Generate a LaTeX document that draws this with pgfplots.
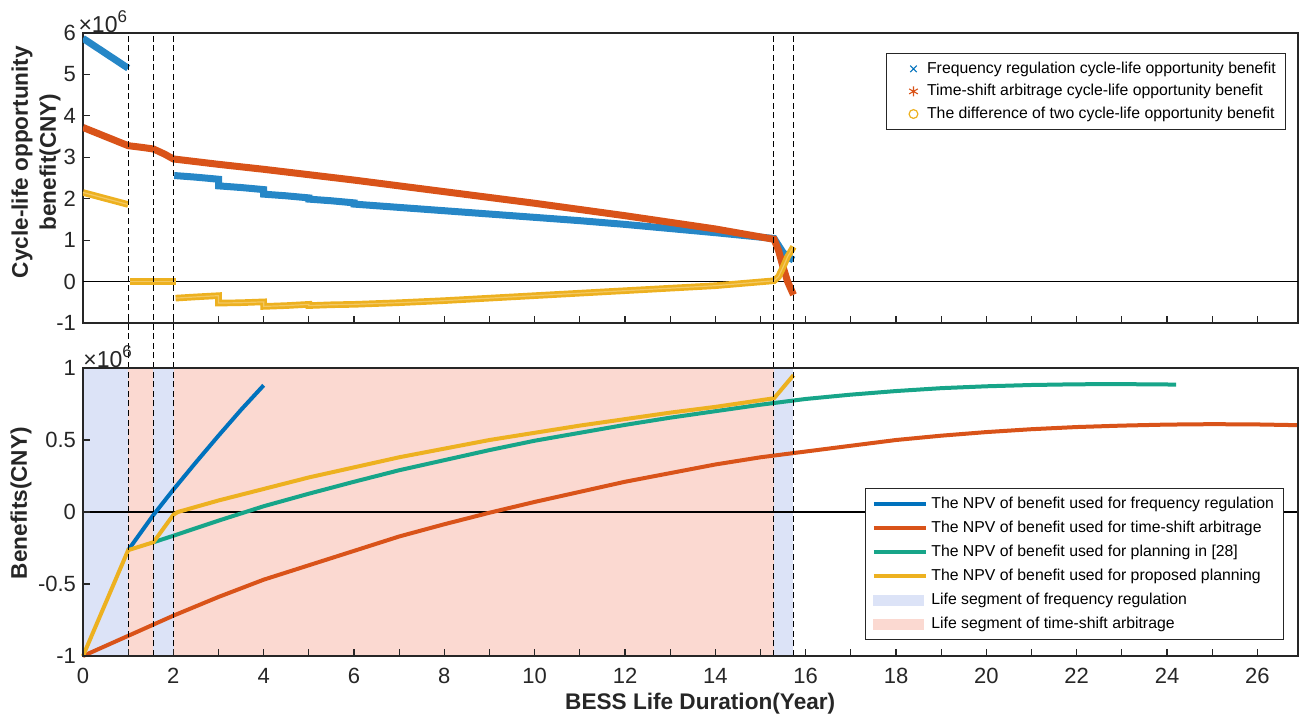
\documentclass[border=0pt]{standalone}
\usepackage{pgfplots}
\pgfplotsset{compat=1.18}
\usepackage{fontspec}
\setmainfont{Liberation Sans}
\definecolor{mblue}{HTML}{0072BD}
\definecolor{morange}{HTML}{D95319}
\definecolor{myellow}{HTML}{EDB120}
\definecolor{mgreen}{HTML}{17A589}
\definecolor{shb}{HTML}{DCE3F7}
\definecolor{shr}{HTML}{FBD9D1}
\definecolor{axgray}{HTML}{262626}
\begin{document}
\begin{tikzpicture}
\useasboundingbox (-41.5pt,-28.5pt) rectangle (609.5pt,328pt);
\pgfplotsset{
  common/.style={
    scale only axis, width=607.5pt,
    xmin=0, xmax=26.9,
    xtick={0,2,...,26}, minor xtick={1,3,...,25},
    tick align=inside, xtick pos=bottom, ytick pos=left,
    major tick length=3.5pt, minor tick length=3.5pt,
    every tick/.append style={axgray, line width=0.6pt},
    every minor tick/.append style={axgray, line width=0.6pt},
    axis line style={axgray, line width=0.7pt},
    tick label style={font=\fontsize{11}{13}\selectfont, text=axgray},
    /pgf/number format/assume math mode=true,
    legend cell align=left,
  }
}
% ---------------- top panel ----------------
\begin{axis}[common, at={(0,166.5pt)}, anchor=south west, height=145pt,
  ymin=-1, ymax=6, ytick={-1,0,...,6}, yticklabels={-1,0,1,2,3,4,5,6},
  xticklabels={}, clip mode=individual,
  ylabel={Cycle-life opportunity\\benefit(CNY)},
  ylabel style={align=center, font=\fontsize{11.3}{14}\selectfont\bfseries, text=axgray,
    at={(axis description cs:-0.0387,0.555)}, anchor=center},
  legend style={at={(rel axis cs:0.990,0.931)}, anchor=north east,
    font=\fontsize{7.9}{9}\selectfont, draw=axgray, line width=0.5pt, row sep=0pt,
    nodes={text height=6pt, text depth=1.7pt, inner sep=1.8pt}},
]
\addplot[black, line width=0.6pt, forget plot] coordinates {(0,0) (26.9,0)};
% frequency regulation
\addplot[mblue!85!white, line width=3.5pt, forget plot] coordinates {(0,5.87) (0.5,5.51) (1.0,5.15)};
\addplot[mblue!85!white, line width=3.5pt, forget plot] coordinates {
(2.02,2.56) (2.5,2.52) (3.0,2.47) (3.0,2.31) (3.5,2.27) (4.0,2.22) (4.0,2.11) (4.5,2.07) (5.0,2.02)
(5.0,1.99) (5.5,1.95) (6.0,1.90) (6.0,1.87) (7,1.79) (8,1.71) (9,1.63) (10,1.55) (11,1.47) (12,1.38)
(13,1.28) (14,1.18) (15.3,1.04) (15.4,0.87) (15.5,0.70) (15.6,0.60) (15.73,0.52)};
% time-shift arbitrage
\addplot[morange, line width=3.5pt, forget plot] coordinates {
(0,3.72) (0.5,3.50) (1.0,3.28) (1.3,3.24) (1.56,3.20) (1.8,3.08) (2.0,2.96) (3,2.83) (4,2.71) (5,2.58)
(6,2.45) (7,2.31) (8,2.17) (9,2.03) (10,1.89) (11,1.74) (12,1.59) (13,1.43) (14,1.27) (15.3,1.02)
(15.4,0.75) (15.5,0.35) (15.6,0.0) (15.73,-0.32)};
% difference
\addplot[myellow, line width=3.3pt, forget plot] coordinates {(0,2.15) (1,1.86)};
\addplot[myellow, line width=3.3pt, forget plot] coordinates {(1.05,0) (2.05,0)};
\addplot[myellow, line width=3.3pt, forget plot] coordinates {
(2.05,-0.40) (2.5,-0.37) (3.0,-0.34) (3.0,-0.52) (3.5,-0.51) (4.0,-0.49) (4.0,-0.60) (4.5,-0.58)
(5.0,-0.55) (5.0,-0.58) (5.5,-0.56) (6.0,-0.55) (7,-0.51) (8,-0.46) (9,-0.40) (10,-0.34) (11,-0.28)
(12,-0.22) (13,-0.16) (14,-0.10) (15.3,0.02) (15.4,0.12) (15.5,0.35) (15.6,0.60) (15.73,0.84)};
\addplot[myellow!70!white, line width=0.6pt, forget plot] coordinates {(0,2.15) (1,1.86)};
\addplot[myellow!70!white, line width=0.6pt, forget plot] coordinates {(1.05,0) (2.05,0)};
\addplot[myellow!70!white, line width=0.6pt, forget plot] coordinates {
(2.05,-0.40) (2.5,-0.37) (3.0,-0.34) (3.0,-0.52) (3.5,-0.51) (4.0,-0.49) (4.0,-0.60) (4.5,-0.58)
(5.0,-0.55) (5.0,-0.58) (5.5,-0.56) (6.0,-0.55) (7,-0.51) (8,-0.46) (9,-0.40) (10,-0.34) (11,-0.28)
(12,-0.22) (13,-0.16) (14,-0.10) (15.3,0.02) (15.4,0.12) (15.5,0.35) (15.6,0.60) (15.73,0.84)};
\addlegendimage{legend image code/.code={\path[draw=none, fill=none] (0pt,-2pt) rectangle (15.5pt,2pt); \draw[mblue, line width=0.55pt] plot[only marks, mark=x, mark size=2.3pt] coordinates {(10.5pt,0pt)};}}
\addlegendentry{Frequency regulation cycle-life opportunity benefit\hspace{9pt}}
\addlegendimage{legend image code/.code={\path[draw=none, fill=none] (0pt,-2pt) rectangle (15.5pt,2pt); \draw[morange, line width=0.55pt] plot[only marks, mark=asterisk, mark size=2.5pt] coordinates {(10.5pt,0pt)};}}
\addlegendentry{Time-shift arbitrage cycle-life opportunity benefit\hspace{9pt}}
\addlegendimage{legend image code/.code={\path[draw=none, fill=none] (0pt,-2pt) rectangle (15.5pt,2pt); \draw[myellow, line width=0.6pt] plot[only marks, mark=o, mark size=2.2pt] coordinates {(10.5pt,0pt)};}}
\addlegendentry{The difference of two cycle-life opportunity benefit\hspace{9pt}}
\node[anchor=base west, inner sep=0pt, font=\fontsize{11.5}{13}\selectfont, text=axgray] at (rel axis cs:-0.004,1.003) {×10\raisebox{0.8ex}{\fontsize{8.5}{9}\selectfont 6}};
\end{axis}
% ---------------- bottom panel ----------------
\begin{axis}[common, at={(0,0)}, anchor=south west, height=144pt,
  ymin=-1, ymax=1, ytick={-1,-0.5,0,0.5,1}, yticklabels={-1,-0.5,0,0.5,1},
  xticklabel style={yshift=-2.5pt},
  xlabel={BESS Life Duration(Year)},
  xlabel style={font=\fontsize{11.3}{14}\selectfont\bfseries, text=axgray,
    at={(axis description cs:0.508,-0.164)}, anchor=center},
  ylabel={Benefits(CNY)},
  ylabel style={font=\fontsize{11.3}{14}\selectfont\bfseries, text=axgray,
    at={(axis description cs:-0.051,0.531)}, anchor=center},
  axis on top, clip=false,
  legend image code/.code={\draw[#1] (0pt,0pt) -- (26pt,0pt);},
  legend style={at={(rel axis cs:0.9885,0.0556)}, anchor=south east,
    font=\fontsize{7.9}{9}\selectfont, draw=axgray, line width=0.5pt, row sep=0.7pt,
    nodes={text height=6pt, text depth=1.7pt, inner sep=1.8pt}},
]
% life segments
\addplot[fill=shb, draw=none, forget plot] coordinates {(0,-1) (0,1) (1,1) (1,-1)} -- cycle;
\addplot[fill=shr, draw=none, forget plot] coordinates {(1,-1) (1,1) (1.56,1) (1.56,-1)} -- cycle;
\addplot[fill=shb, draw=none, forget plot] coordinates {(1.56,-1) (1.56,1) (2.01,1) (2.01,-1)} -- cycle;
\addplot[fill=shr, draw=none, forget plot] coordinates {(2.01,-1) (2.01,1) (15.29,1) (15.29,-1)} -- cycle;
\addplot[fill=shb, draw=none, forget plot] coordinates {(15.29,-1) (15.29,1) (15.73,1) (15.73,-1)} -- cycle;
\addplot[black, line width=0.6pt, forget plot] coordinates {(0,0) (26.9,0)};
% NPV curves
\addplot[mblue, line width=2pt, forget plot] coordinates {
(1,-0.265) (1.56,-0.02) (2,0.155) (2.5,0.345) (3,0.53) (3.5,0.71) (4,0.88)};
\addplot[morange, line width=2pt, forget plot] coordinates {
(0,-1.0) (1,-0.86) (2,-0.72) (3,-0.59) (4,-0.47) (5,-0.37) (6,-0.27) (7,-0.17) (8,-0.085) (9,-0.005)
(10,0.07) (11,0.14) (12,0.21) (13,0.27) (14,0.33) (15,0.38) (16,0.42) (17,0.46) (18,0.50) (19,0.53)
(20,0.555) (21,0.575) (22,0.59) (23,0.60) (24,0.607) (25,0.61) (26,0.608) (26.9,0.603)};
\addplot[mgreen, line width=2pt, forget plot] coordinates {
(1.56,-0.21) (2,-0.165) (3,-0.06) (4,0.04) (5,0.127) (6,0.21) (7,0.29) (8,0.36) (9,0.43) (10,0.495)
(11,0.55) (12,0.605) (13,0.655) (14,0.70) (15,0.745) (16,0.785) (17,0.815) (18,0.84) (19,0.86)
(20,0.873) (21,0.882) (22,0.887) (23,0.888) (24.2,0.885)};
\addplot[myellow, line width=2pt, forget plot] coordinates {
(0,-1) (1,-0.265) (1.56,-0.21) (2.0,-0.02) (2.1,0.0) (3,0.08) (4,0.16) (5,0.24) (6,0.31) (7,0.38)
(8,0.44) (9,0.50) (10,0.55) (11,0.60) (12,0.645) (13,0.69) (14,0.73) (15.3,0.79) (15.73,0.95)};
% dashed separators through both panels
\foreach \xv in {1,1.56,2.01,15.29,15.73} {
  \edef\temp{\noexpand\draw[black, line width=0.6pt, dash pattern=on 3pt off 1.8pt] (axis cs:\xv,-1) -- (axis cs:\xv,3.326);}
  \temp
}
\addlegendimage{mblue, line width=2pt}
\addlegendentry{The NPV of benefit used for frequency regulation}
\addlegendimage{morange, line width=2pt}
\addlegendentry{The NPV of benefit used for time-shift arbitrage}
\addlegendimage{mgreen, line width=2pt}
\addlegendentry{The NPV of benefit used for planning in [28]}
\addlegendimage{myellow, line width=2pt}
\addlegendentry{The NPV of benefit used for proposed planning}
\addlegendimage{legend image code/.code={\fill[shb] (0pt,-2.5pt) rectangle (25pt,2.5pt);}}
\addlegendentry{Life segment of frequency regulation}
\addlegendimage{legend image code/.code={\fill[shr] (0pt,-2.5pt) rectangle (25pt,2.5pt);}}
\addlegendentry{Life segment of time-shift arbitrage}
\node[anchor=base west, inner sep=0pt, font=\fontsize{11.5}{13}\selectfont, text=axgray] at (rel axis cs:0,1.003) {×10\raisebox{0.8ex}{\fontsize{8.5}{9}\selectfont 6}};
\end{axis}
\end{tikzpicture}
\end{document}
